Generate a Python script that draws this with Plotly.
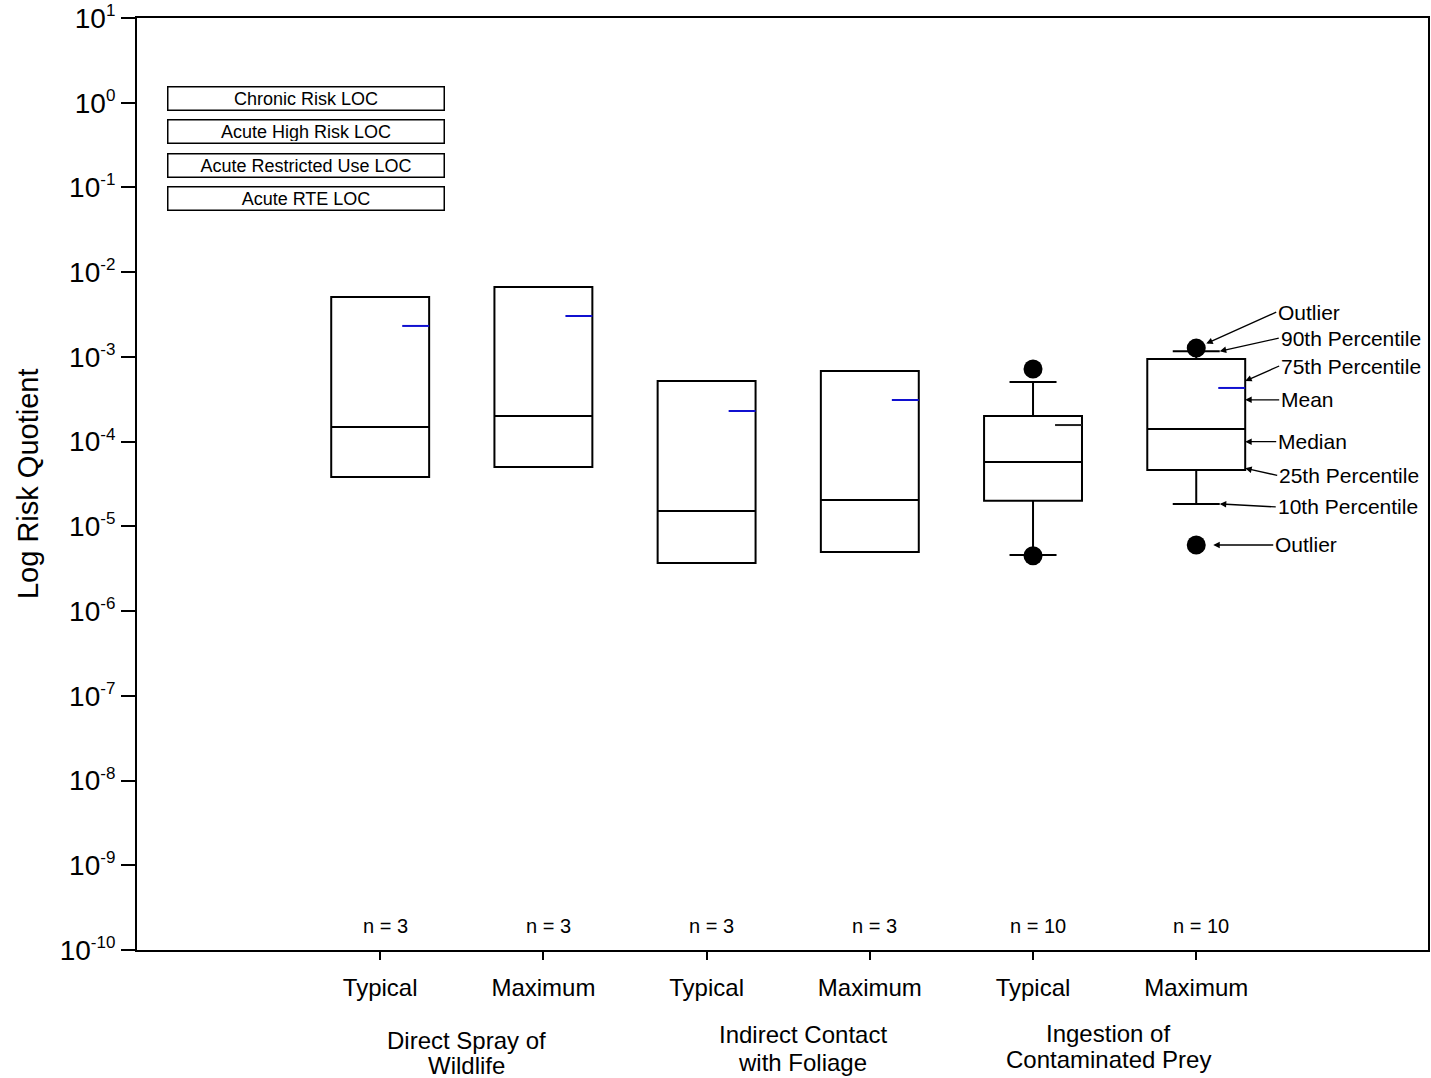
import math
import plotly.graph_objects as go

# ---------------- data ----------------
categories = ["Typical", "Maximum", "Typical", "Maximum", "Typical", "Maximum"]
group_line1 = ["Direct Spray of", "Indirect Contact", "Ingestion of"]
group_line2 = ["Wildlife", "with Foliage", "Contaminated Prey"]
n_counts = [3, 3, 3, 3, 10, 10]
q1 = [3.83e-5, 5.02e-5, 3.7e-6, 4.99e-6, 2.0e-5, 4.62e-5]
median = [1.49e-4, 2.01e-4, 1.52e-5, 2.05e-5, 5.75e-5, 1.41e-4]
q3 = [5.1e-3, 6.68e-3, 5.2e-4, 6.82e-4, 2.01e-4, 9.45e-4]
p10 = [None, None, None, None, 4.59e-6, 1.84e-5]
p90 = [None, None, None, None, 5.06e-4, 1.17e-3]
mean = [2.32e-3, 3.04e-3, 2.30e-4, 3.10e-4, 1.57e-4, 4.30e-4]
mean_colors = ["#1010d0", "#1010d0", "#1010d0", "#1010d0", "#222222", "#1010d0"]
outlier_box = [5, 5, 6, 6]
outlier_vals = [7.2e-4, 4.5e-6, 1.27e-3, 6.03e-6]
loc_labels = ["Chronic Risk LOC", "Acute High Risk LOC", "Acute Restricted Use LOC", "Acute RTE LOC"]
ytick_exp = list(range(1, -11, -1))

FONT = "Liberation Sans, Arial, sans-serif"
positions = list(range(1, len(categories) + 1))
BOX_W = 0.6

fig = go.Figure()

lower = [p if p is not None else q for p, q in zip(p10, q1)]
upper = [p if p is not None else q for p, q in zip(p90, q3)]

fig.add_trace(go.Box(
    x=positions, q1=q1, median=median, q3=q3,
    lowerfence=lower, upperfence=upper,
    width=BOX_W, whiskerwidth=0.48,
    fillcolor="rgba(0,0,0,0)", line=dict(color="black", width=2),
    boxpoints=False, showlegend=False, hoverinfo="skip",
))

# mean segments (short line at the right side of each box)
for pos, m, c in zip(positions, mean, mean_colors):
    fig.add_trace(go.Scatter(
        x=[pos + 0.135, pos + BOX_W / 2], y=[m, m], mode="lines",
        line=dict(color=c, width=2), showlegend=False, hoverinfo="skip"))

# outliers
fig.add_trace(go.Scatter(
    x=outlier_box, y=outlier_vals, mode="markers",
    marker=dict(color="black", size=19), showlegend=False, hoverinfo="skip"))

ann = []
# n labels
for pos, n in zip(positions, n_counts):
    ann.append(dict(x=pos + 0.03, y=0.026, xref="x", yref="paper", text=f"n = {n}",
                    xanchor="center", yanchor="middle",
                    showarrow=False, font=dict(size=20, color="black", family=FONT)))

# group labels (two lines each, tight line spacing)
group_x = [1.53, 3.59, 5.46]
group_y1 = [-0.0966, -0.0912, -0.0891]
group_y2 = [-0.1234, -0.1202, -0.1170]
for gx, y1, y2, t1, t2 in zip(group_x, group_y1, group_y2, group_line1, group_line2):
    for gy, t in ((y1, t1), (y2, t2)):
        ann.append(dict(x=gx, y=gy, xref="x", yref="paper", text=t, showarrow=False,
                        xanchor="center", yanchor="middle",
                        font=dict(size=24, color="black", family=FONT)))

# y title
ann.append(dict(x=-0.0844, y=0.5, xref="paper", yref="paper", text="Log Risk Quotient",
                xanchor="center", yanchor="middle",
                textangle=-90, showarrow=False, font=dict(size=29, color="black", family=FONT)))

# LOC boxes
loc_y = [0.914, 0.878, 0.842, 0.806]
for ly, lab in zip(loc_y, loc_labels):
    ann.append(dict(x=0.131, y=ly, xref="paper", yref="paper", text=lab, showarrow=False,
                    xanchor="center", yanchor="middle",
                    width=272, height=19, borderpad=1.5, bordercolor="black", borderwidth=1.5,
                    bgcolor="white", font=dict(size=18, color="black", family=FONT)))

# legend key arrows for the last box
k = 5
L = math.log10
cap_dx = BOX_W * 0.48 / 2
key = [
    ("Outlier", 6, L(outlier_vals[2]), 80, -36, 11),
    ("90th Percentile", 6 + cap_dx, L(p90[k]), 59, -13, 0),
    ("75th Percentile", 6 + BOX_W / 2, L(q3[k]) - 0.26, 34, -15, 0),
    ("Mean", 6 + BOX_W / 2, L(mean[k]) - 0.14, 34, 0, 0),
    ("Median", 6 + BOX_W / 2, L(median[k]) - 0.15, 31, 0, 0),
    ("25th Percentile", 6 + BOX_W / 2, L(q1[k]) + 0.02, 32, 7, 0),
    ("10th Percentile", 6 + cap_dx, L(p10[k]), 56, 3, 0),
    ("Outlier", 6, L(outlier_vals[3]), 77, 0, 17),
]
for text, hx, hy, ax, ay, so in key:
    ann.append(dict(x=hx, y=hy, xref="x", yref="y", ax=ax, ay=ay, text=text,
                    xanchor="left", yanchor="middle", showarrow=True, arrowhead=2,
                    arrowsize=1, arrowwidth=1.3, arrowcolor="black", standoff=so,
                    font=dict(size=21, color="black", family=FONT)))

fig.update_layout(
    width=1431, height=1078,
    margin=dict(l=137, r=3, t=18, b=128),
    paper_bgcolor="white", plot_bgcolor="white",
    font=dict(family=FONT, color="black"),
    annotations=ann,
    showlegend=False,
)
fig.update_xaxes(
    range=[-0.49, 7.42], tickmode="array", tickvals=positions, ticktext=categories,
    ticks="outside", ticklen=8, tickwidth=1.5, tickcolor="black",
    tickfont=dict(size=24, color="black", family=FONT), ticklabelstandoff=7,
    showline=True, linecolor="black", linewidth=2, mirror=True,
    showgrid=False, zeroline=False, automargin=False,
)
fig.update_yaxes(
    type="log", range=[-10, 1], tickmode="array",
    tickvals=[10 ** e for e in ytick_exp],
    ticktext=[f"10<sup><span style='font-size:17px'>{e}</span></sup>" for e in ytick_exp],
    ticks="outside", ticklen=14, tickwidth=1.5, tickcolor="black",
    tickfont=dict(size=28, color="black", family=FONT), ticklabeloverflow="allow",
    showline=True, linecolor="black", linewidth=2, mirror=True,
    showgrid=False, zeroline=False, automargin=False,
)

fig.write_html(
    "out.html",
    config={"displayModeBar": False},
    post_script="document.body.style.margin='0';document.body.style.overflow='hidden';",
)
